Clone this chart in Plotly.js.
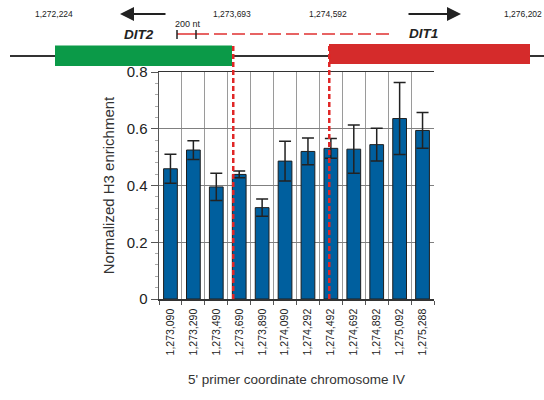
<!DOCTYPE html>
<html>
<head>
<meta charset="utf-8">
<script src="https://cdn.plot.ly/plotly-3.0.1.min.js"></script>
<style>
  html, body { margin: 0; padding: 0; background: #fff; }
  #chart { width: 544px; height: 400px; }
</style>
</head>
<body>
<div id="chart"></div>
<script>
// 5' primer coordinates on chromosome IV (one bar per amplicon)
const primerCoords = ['1,273,090', '1,273,290', '1,273,490', '1,273,690', '1,273,890', '1,274,090',
                      '1,274,292', '1,274,492', '1,274,692', '1,274,892', '1,275,092', '1,275,288'];
// Normalized H3 enrichment and its standard error
const h3Enrichment = [0.459, 0.525, 0.395, 0.439, 0.322, 0.486, 0.520, 0.531, 0.528, 0.544, 0.636, 0.594];
const h3Error      = [0.051, 0.033, 0.048, 0.012, 0.030, 0.070, 0.047, 0.035, 0.085, 0.058, 0.127, 0.063];

// Gene landmarks drawn in the locus schematic above the plot
const landmarkLabels = ['1,272,224', '1,273,693', '1,274,592', '1,276,202'];
const geneNames = ['DIT2', 'DIT1'];
const scaleLabel = '200 nt';
// Boundaries of the intergenic region, as positions on the primer axis
const boundaryPos = [2.74, 6.93];

const plotBox = { left: 159, right: 434, top: 72, bottom: 299 };
// pixel -> paper helpers for the schematic drawn in the top margin
const px = v => (v - plotBox.left) / (plotBox.right - plotBox.left);
const py = v => (plotBox.bottom - v) / (plotBox.bottom - plotBox.top);

const sans = 'Liberation Sans, Arial, sans-serif';

const trace = {
  type: 'bar',
  x: primerCoords,
  y: h3Enrichment,
  marker: { color: '#005f9e', line: { color: '#1e1e1e', width: 1 } },
  error_y: { type: 'data', array: h3Error, visible: true, color: '#222', thickness: 1.5, width: 6 },
  hoverinfo: 'x+y'
};

const shapes = [
  // chromosome backbone
  { type: 'line', xref: 'paper', yref: 'paper', x0: px(10), x1: px(544), y0: py(56), y1: py(56),
    line: { color: '#333', width: 2 } },
  // DIT2 gene body
  { type: 'rect', xref: 'paper', yref: 'paper', x0: px(55), x1: px(232), y0: py(66), y1: py(45.5),
    fillcolor: '#0b9a48', line: { width: 0 } },
  // DIT1 gene body
  { type: 'rect', xref: 'paper', yref: 'paper', x0: px(329), x1: px(530), y0: py(64), y1: py(44),
    fillcolor: '#d52b2b', line: { width: 0 } },
  // intergenic span
  { type: 'line', xref: 'paper', yref: 'paper', x0: px(196), x1: px(394), y0: py(34), y1: py(34),
    line: { color: '#e03030', width: 1.5, dash: '13px,5px' } },
  // 200 nt scale bar
  { type: 'line', xref: 'paper', yref: 'paper', x0: px(177), x1: px(196), y0: py(34), y1: py(34),
    line: { color: '#e03030', width: 1.5 } },
  { type: 'line', xref: 'paper', yref: 'paper', x0: px(177), x1: px(177), y0: py(30), y1: py(39),
    line: { color: '#222', width: 1.5 } },
  { type: 'line', xref: 'paper', yref: 'paper', x0: px(196), x1: px(196), y0: py(30), y1: py(39),
    line: { color: '#222', width: 1.5 } }
];
// gene boundaries projected down onto the primer axis
boundaryPos.forEach(b => shapes.push({
  type: 'line', xref: 'x', yref: 'paper', x0: b, x1: b, y0: 0, y1: py(44), layer: 'above',
  line: { color: '#e02626', width: 2.5, dash: '5px,3px' }
}));

const label = (text, x, y, size) => ({
  text: text, xref: 'paper', yref: 'paper', x: px(x), y: py(y),
  xanchor: 'center', yanchor: 'middle', showarrow: false,
  font: { family: sans, size: size, color: '#222' }
});

const landmarkX = [54, 232, 328, 523];
const annotations = landmarkLabels.map((t, i) => label(t, landmarkX[i], 14, 8.5));
annotations.push(
  label(scaleLabel, 188, 24, 9),
  label('<b><i>' + geneNames[0] + '</i></b>', 139, 34, 13.5),
  label('<b><i>' + geneNames[1] + '</i></b>', 423, 33, 13.5),
  // transcription direction arrows
  { text: '', xref: 'paper', yref: 'paper', x: px(120), y: py(14), ax: 47, ay: 0,
    showarrow: true, arrowhead: 2, arrowsize: 1.4, arrowwidth: 2, arrowcolor: '#222' },
  { text: '', xref: 'paper', yref: 'paper', x: px(461), y: py(14), ax: -54, ay: 0,
    showarrow: true, arrowhead: 2, arrowsize: 1.4, arrowwidth: 2, arrowcolor: '#222' }
);

const layout = {
  width: 544, height: 400, autosize: false,
  margin: { l: plotBox.left, r: 544 - plotBox.right, t: plotBox.top, b: 400 - plotBox.bottom, pad: 0 },
  paper_bgcolor: '#fff', plot_bgcolor: '#fff',
  showlegend: false,
  bargap: 0.4,
  font: { family: sans, color: '#222' },
  xaxis: {
    type: 'category', range: [-0.5, 11.5], tickson: 'boundaries',
    showgrid: true, gridcolor: '#9a9a9a', gridwidth: 1,
    showline: true, linecolor: '#333', linewidth: 1.5, mirror: true,
    ticks: 'outside', ticklen: 4, tickcolor: '#555',
    ticklabelstandoff: 4,
    tickangle: -90, tickfont: { family: sans, size: 10.5, color: '#222' },
    title: { text: "5' primer coordinate chromosome IV", font: { family: sans, size: 13.5, color: '#333' }, standoff: 20 },
    fixedrange: true
  },
  yaxis: {
    range: [0, 0.8], dtick: 0.2, tick0: 0,
    showgrid: true, gridcolor: '#808080', gridwidth: 1, zeroline: false,
    showline: true, linecolor: '#555', linewidth: 1.5,
    ticks: 'outside', ticklen: 7, tickcolor: '#555',
    minor: { dtick: 0.04, ticks: 'outside', ticklen: 3, tickcolor: '#aaa', showgrid: false },
    tickfont: { family: sans, size: 15, color: '#222' },
    title: { text: 'Normalized H3 enrichment', font: { family: sans, size: 15, color: '#333' }, standoff: 8 },
    fixedrange: true
  },
  shapes: shapes,
  annotations: annotations
};

Plotly.newPlot('chart', [trace], layout, { displayModeBar: false, staticPlot: true });
</script>
</body>
</html>
